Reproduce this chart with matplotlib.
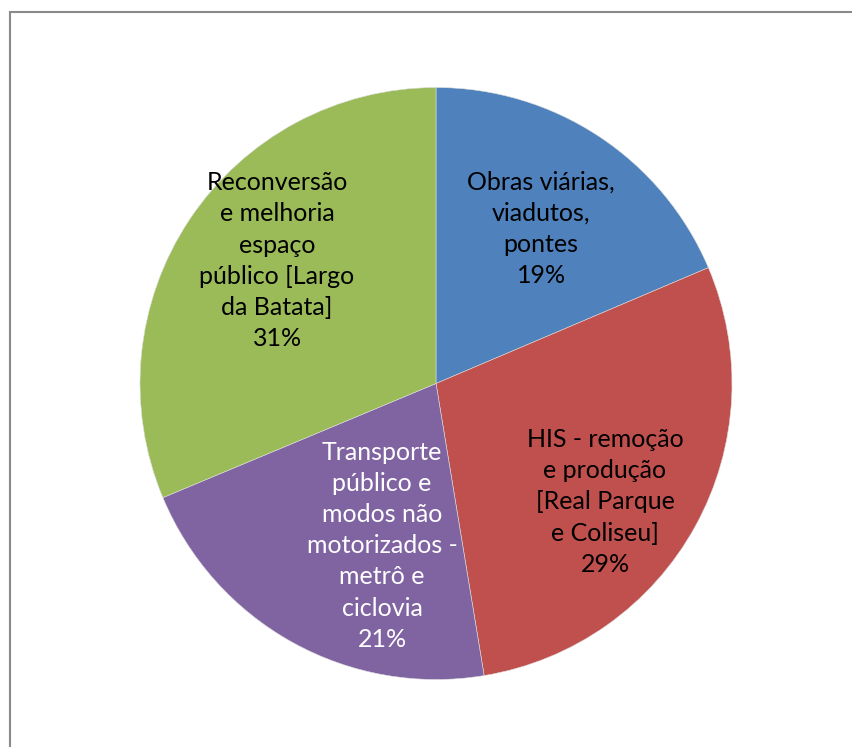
import matplotlib
matplotlib.use("Agg")
import matplotlib.pyplot as plt
from matplotlib.lines import Line2D

categories = [
    "Obras viárias,\nviadutos,\npontes",
    "HIS - remoção\ne produção\n[Real Parque\ne Coliseu]",
    "Transporte\npúblico e\nmodos não\nmotorizados -\nmetrô e\nciclovia",
    "Reconversão\ne melhoria\nespaço\npúblico [Largo\nda Batata]",
]
values = [18.6, 28.8, 21.3, 31.3]
colors = ["#4F81BD", "#C0504D", "#8064A2", "#9BBB59"]
text_colors = ["black", "black", "white", "black"]
label_pos = [(0.355, 0.522), (0.571, -0.400), (-0.182, -0.548), (-0.537, 0.415)]

W, H = 853, 747
fig = plt.figure(figsize=(W / 100, H / 100), dpi=100)
fig.patch.set_facecolor("white")

cx, cy, r = 436, 383.5, 296
ax = fig.add_axes([(cx - r) / W, (H - cy - r) / H, 2 * r / W, 2 * r / H])
ax.pie(values, colors=colors, startangle=90, counterclock=False, radius=1,
       wedgeprops=dict(linewidth=0.4, edgecolor="#dddddd"))
ax.set_xlim(-1, 1)
ax.set_ylim(-1, 1)
ax.set_aspect("auto")
ax.axis("off")

total = sum(values)
for cat, v, tc, (x, y) in zip(categories, values, text_colors, label_pos):
    ax.text(x, y, f"{cat}\n{round(v / total * 100)}%", ha="center", va="center",
            multialignment="center", color=tc, fontsize=18, family=["Lato", "DejaVu Sans"],
            linespacing=1.43)

# chart area border (left and top edges visible)
bx, by = 9.5 / W, 1 - 11.5 / H
fig.add_artist(Line2D([bx, bx], [0, by], transform=fig.transFigure, color="#8a8a8a", lw=1.5))
fig.add_artist(Line2D([bx, 1], [by, by], transform=fig.transFigure, color="#8a8a8a", lw=1.5))

fig.savefig("out.png", dpi=100)
